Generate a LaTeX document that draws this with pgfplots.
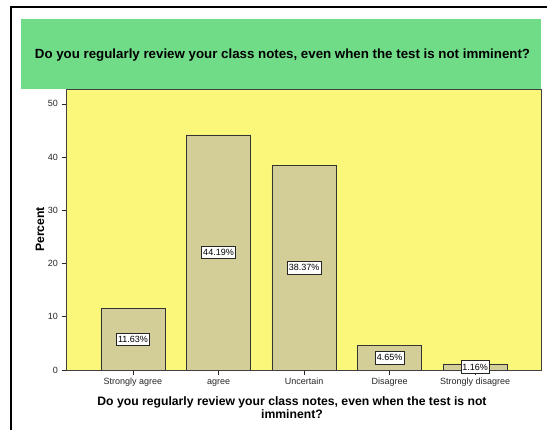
\documentclass[border=0pt]{standalone}
\usepackage{fontspec}
\setmainfont{Liberation Sans}
\usepackage{pgfplots}
\pgfplotsset{compat=1.18}
\definecolor{titlegreen}{HTML}{70DC88}
\definecolor{plotyellow}{HTML}{FAF77A}
\definecolor{bartan}{HTML}{D3CE98}
\begin{document}
\begin{tikzpicture}
% page = 547 x 430 px, origin at the lower left of the plot area
\path[use as bounding box] (-66.5bp,-60bp) rectangle (480.5bp,370bp);
\begin{axis}[
    at={(0,0)}, anchor=south west,
    scale only axis,
    width=474.5bp, height=281bp,
    xmin=-0.777, xmax=4.77,
    ymin=0, ymax=52.8,
    xtick=data,
    xticklabels={Strongly agree, agree, Uncertain, Disagree, Strongly disagree},
    ytick={0,10,20,30,40,50},
    tick align=outside,
    xtick pos=left, ytick pos=left,
    major tick length=5bp,
    tick style={black!85, line width=0.6bp},
    axis line style={black!75, line width=0.6bp},
    axis background/.style={fill=plotyellow},
    ticklabel style={font=\fontsize{9bp}{11bp}\selectfont, text=black!85},
    xticklabel style={text height=6.5bp, text depth=2bp, yshift=1bp},
    /pgf/number format/assume math mode=true,
    ylabel={Percent},
    ylabel style={at={(axis description cs:-0.056,0.5)}, anchor=center,
        font=\bfseries\fontsize{12.2bp}{14bp}\selectfont},
    xlabel={Do you regularly review your class notes, even when the test is not\\imminent?},
    xlabel style={at={(axis description cs:0.4752,-0.1335)}, anchor=center, align=center,
        font=\bfseries\fontsize{12.2bp}{13bp}\selectfont},
]
\addplot[ybar, bar width=0.75, fill=bartan, draw=black!80, line width=0.6bp,
    visualization depends on={y \as \rawy},
    nodes near coords={\pgfmathprintnumber[fixed,fixed zerofill,precision=2]{\pgfplotspointmeta}\%},
    every node near coord/.append style={anchor=center,
        shift={(axis direction cs:0,-\rawy/2)},
        font=\fontsize{9bp}{11bp}\selectfont,
        fill=white, draw=black!85, line width=0.5bp,
        inner xsep=1.5bp, inner ysep=3bp}
] coordinates {(0,11.63) (1,44.19) (2,38.37) (3,4.65) (4,1.16)};
\end{axis}
% title box
\fill[titlegreen] (-45.5bp,281bp) rectangle (474.5bp,351bp);
\node[font=\bfseries\fontsize{13.3bp}{15bp}\selectfont] at (216bp,315bp)
    {Do you regularly review your class notes, even when the test is not imminent?};
% outer frame
\draw[black, line width=2bp] (-56bp,363bp) -- (480.5bp,363bp);
\draw[black, line width=2bp] (-55.5bp,364bp) -- (-55.5bp,-60bp);
\end{tikzpicture}
\end{document}
